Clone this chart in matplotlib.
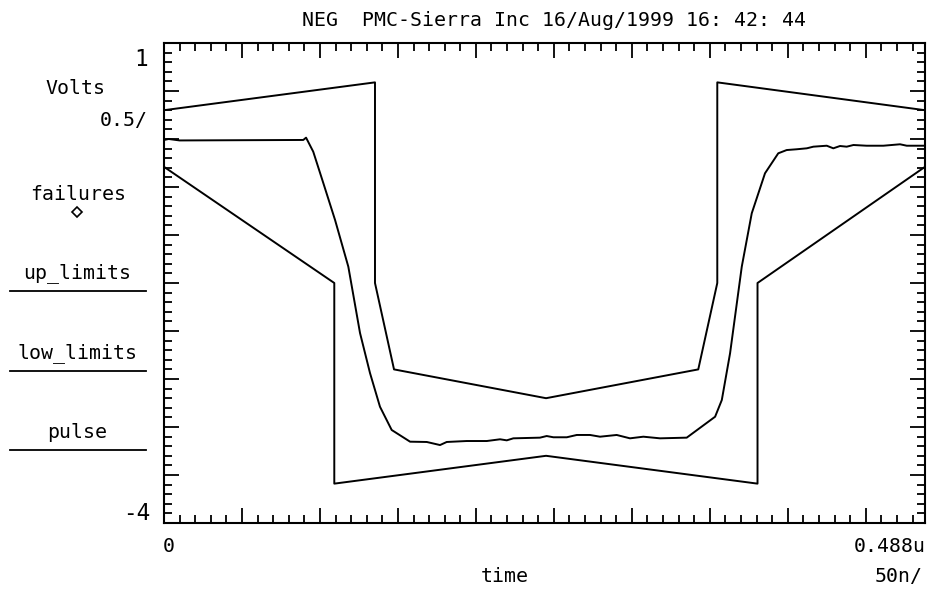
import matplotlib.pyplot as plt
from matplotlib.lines import Line2D
from matplotlib.ticker import MultipleLocator

# tiempo en ns, tension en V
up_t = [0, 135.3, 135.3, 147.5, 245, 342.6, 354.8, 354.8, 488]
up_v = [0.30, 0.59, -1.50, -2.40, -2.70, -2.40, -1.50, 0.59, 0.30]

low_t = [0, 109.2, 109.2, 245, 380.6, 380.6, 488]
low_v = [-0.29, -1.50, -3.59, -3.30, -3.59, -1.50, -0.29]

pulse_t = [0, 3, 10, 89.3, 91.1, 95.7, 102.2, 109.7, 118.2, 125.7, 132.1, 138.5,
           146.0, 157.8, 168.5, 177.0, 181.3, 194.1, 207.0, 215.5, 219.8, 224.0,
           241.1, 245.4, 249.7, 258.3, 264.7, 273.2, 279.6, 290.3, 298.8, 307.4,
           318.1, 335.2, 353.4, 357.7, 363.0, 370.5, 376.9, 385.4, 393.9, 399.3,
           405.7, 412.2, 416.4, 425.0, 429.2, 433.5, 437.8, 442.1, 450.6, 461.3,
           472.0, 476.3, 488]
pulse_v = [-0.01, 0.0, -0.015, -0.01, 0.014, -0.132, -0.461, -0.844, -1.330, -2.021,
           -2.438, -2.789, -3.031, -3.153, -3.156, -3.188, -3.156, -3.146, -3.146,
           -3.128, -3.139, -3.118, -3.111, -3.094, -3.107, -3.107, -3.083, -3.083,
           -3.101, -3.083, -3.118, -3.101, -3.118, -3.111, -2.893, -2.719, -2.232,
           -1.330, -0.774, -0.357, -0.149, -0.115, -0.107, -0.097, -0.080, -0.070,
           -0.097, -0.073, -0.080, -0.0625, -0.070, -0.070, -0.055, -0.070, -0.070]

W, H = 929, 590
fuente = 'DejaVu Sans Mono'
tam = 14.3

def px(x, y):
    return x / W, 1 - y / H

fig = plt.figure(figsize=(W / 100, H / 100), dpi=100)
ax = fig.add_axes([164 / W, 1 - 523 / H, 761 / W, 480 / H])

ax.plot(up_t, up_v, color='black', lw=1.4)
ax.plot(low_t, low_v, color='black', lw=1.4)
ax.plot(pulse_t, pulse_v, color='black', lw=1.4)

ax.set_xlim(0, 488)
ax.set_ylim(-4, 1)
ax.xaxis.set_major_locator(MultipleLocator(50))
ax.xaxis.set_minor_locator(MultipleLocator(10))
ax.yaxis.set_major_locator(MultipleLocator(0.5))
ax.yaxis.set_minor_locator(MultipleLocator(0.1))
ax.tick_params(which='both', direction='in', top=True, right=True,
               labelbottom=False, labelleft=False, color='black')
ax.tick_params(which='major', length=11, width=1.3)
ax.tick_params(which='minor', length=6, width=1.3)
for s in ax.spines.values():
    s.set_linewidth(1.5)

# textos
fig.text(*px(554, 21), 'NEG  PMC-Sierra Inc 16/Aug/1999 16: 42: 44',
         ha='center', va='center', family=fuente, fontsize=tam)
fig.text(*px(148, 59), '1', ha='right', va='center', family=fuente, fontsize=tam + 2)
fig.text(*px(150, 513), '-4', ha='right', va='center', family=fuente, fontsize=tam + 2)
fig.text(*px(75, 88), 'Volts', ha='center', va='center', family=fuente, fontsize=tam)
fig.text(*px(148, 121), '0.5/', ha='right', va='center', family=fuente, fontsize=tam)
fig.text(*px(78, 195), 'failures', ha='center', va='center', family=fuente, fontsize=tam)
fig.text(*px(77, 273), 'up_limits', ha='center', va='center', family=fuente, fontsize=tam)
fig.text(*px(77, 353), 'low_limits', ha='center', va='center', family=fuente, fontsize=tam)
fig.text(*px(77, 432), 'pulse', ha='center', va='center', family=fuente, fontsize=tam)
fig.text(*px(169, 546), '0', ha='center', va='center', family=fuente, fontsize=tam)
fig.text(*px(926, 547), '0.488u', ha='right', va='center', family=fuente, fontsize=tam)
fig.text(*px(505, 577), 'time', ha='center', va='center', family=fuente, fontsize=tam)
fig.text(*px(923, 577), '50n/', ha='right', va='center', family=fuente, fontsize=tam)

# leyenda a mano
x0, y0 = px(77, 212)
fig.add_artist(Line2D([x0], [y0], marker='D', ms=5.5, mfc='white', mec='black',
                      mew=1.2, transform=fig.transFigure))
for y in [291, 371, 450]:
    xa, ya = px(10, y)
    xb, yb = px(146, y)
    fig.add_artist(Line2D([xa, xb], [ya, yb], color='black', lw=1.3,
                          transform=fig.transFigure))

plt.savefig('out.png')
plt.close()
